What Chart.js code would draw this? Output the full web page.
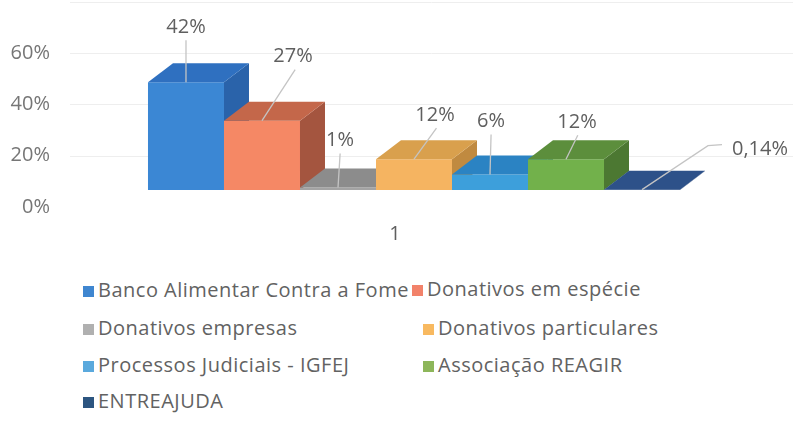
<!DOCTYPE html>
<html>
<head>
<meta charset="utf-8">
<script src="https://cdn.jsdelivr.net/npm/chart.js@4"></script>
<style>
    html, body { margin: 0; padding: 0; background: #ffffff; }
    #wrap { position: relative; width: 793px; height: 429px; overflow: hidden; }
    #chartBox { position: absolute; left: 0; top: 0; width: 793px; height: 250px; }
    .legend-item {
        position: absolute;
        height: 24px;
        line-height: 24px;
        font-family: "Open Sans", sans-serif;
        font-size: 20px;
        letter-spacing: 0.5px;
        color: #626262;
        white-space: nowrap;
    }
    .legend-item span.box {
        display: inline-block;
        width: 11px;
        height: 11px;
        margin-right: 4px;
        vertical-align: 0px;
    }
</style>
</head>
<body>
<div id="wrap">
    <div id="chartBox"><canvas id="fundsChart"></canvas></div>
    <div id="legend"></div>
</div>
<script>
// Chart data
const categories = ['1'];
const seriesNames = [
    'Banco Alimentar Contra a Fome',
    'Donativos em espécie',
    'Donativos empresas',
    'Donativos particulares',
    'Processos Judiciais - IGFEJ',
    'Associação REAGIR',
    'ENTREAJUDA'
];
const seriesValues = [42, 27, 1, 12, 6, 12, 0.14];
const yTicks = [0, 20, 40, 60];

// Colours of each bar: front face, top face, side face
const frontColors = ['#3b87d4', '#f58865', '#a3a3a3', '#f5b461', '#3d9fdb', '#72b14b', '#264478'];
const topColors = ['#2f70c0', '#c4674a', '#8c8c8c', '#d9a04d', '#2b83c3', '#5c8e3c', '#2d5189'];
const sideColors = ['#2a63aa', '#a4553f', '#7a7a7a', '#c08a40', '#2a74ad', '#4c7832', '#1f3a66'];
const legendColors = ['#3f86d0', '#f2826a', '#b0b0b0', '#f8b960', '#5aa9dd', '#8db65a', '#2c5580'];

// Where each value label sits relative to the top-front centre of its bar
const labelOffsets = [[0, -55], [31, -64], [2, -47], [21, -44], [1, -53], [11, -37], [118, -40]];

// Depth of the fake 3D boxes
const DEPTH_X = 25;
const DEPTH_Y = -19;
// Tick labels sit a bit lower than the front face scale
const TICK_SHIFT = 17;

// Format value like "0,14%"
function formatPercent(value) {
    return new Intl.NumberFormat('pt-PT', { maximumFractionDigits: 2 }).format(value) + '%';
}

function fillPoly(ctx, points, color) {
    ctx.beginPath();
    ctx.moveTo(points[0][0], points[0][1]);
    for (let i = 1; i < points.length; i++) {
        ctx.lineTo(points[i][0], points[i][1]);
    }
    ctx.closePath();
    ctx.fillStyle = color;
    ctx.fill();
}

// Draw bars as 3D boxes instead of flat rectangles
const boxBars = {
    id: 'boxBars',
    beforeDatasetsDraw(chart) {
        const ctx = chart.ctx;
        const yScale = chart.scales.y;
        const area = chart.chartArea;

        // faint back-wall grid
        ctx.save();
        ctx.strokeStyle = '#eeeeee';
        ctx.lineWidth = 1;
        yTicks.concat([yTicks[yTicks.length - 1] + 20]).forEach(v => {
            if (v === 0) return;
            const py = Math.round(yScale.getPixelForValue(v) + TICK_SHIFT) + 0.5;
            ctx.beginPath();
            ctx.moveTo(area.left, py);
            ctx.lineTo(chart.width, py);
            ctx.stroke();
        });

        chart.data.datasets.forEach((ds, i) => {
            const bar = chart.getDatasetMeta(i).data[0];
            const p = bar.getProps(['x', 'y', 'base', 'width'], true);
            const l = p.x - p.width / 2;
            const r = p.x + p.width / 2;
            const t = p.y;
            const b = p.base;
            // front
            fillPoly(ctx, [[l, t], [r, t], [r, b], [l, b]], frontColors[i]);
            // side
            fillPoly(ctx, [[r, t], [r + DEPTH_X, t + DEPTH_Y], [r + DEPTH_X, b + DEPTH_Y], [r, b]], sideColors[i]);
            // top
            fillPoly(ctx, [[l, t], [l + DEPTH_X, t + DEPTH_Y], [r + DEPTH_X, t + DEPTH_Y], [r, t]], topColors[i]);
        });
        ctx.restore();
        return false;
    },
    afterDraw(chart) {
        const ctx = chart.ctx;
        ctx.save();
        ctx.font = '20px "Open Sans", sans-serif';
        ctx.textAlign = 'center';
        ctx.textBaseline = 'middle';
        chart.data.datasets.forEach((ds, i) => {
            const bar = chart.getDatasetMeta(i).data[0];
            const p = bar.getProps(['x', 'y'], true);
            const lx = p.x + labelOffsets[i][0];
            const ly = p.y + labelOffsets[i][1];

            // leader line
            ctx.strokeStyle = '#c4c4c4';
            ctx.lineWidth = 1.3;
            ctx.beginPath();
            ctx.moveTo(p.x, p.y);
            if (Math.abs(labelOffsets[i][0]) > 60) {
                ctx.lineTo(lx - 52, ly - 4);
                ctx.lineTo(lx - 38, ly - 5);
            } else {
                ctx.lineTo(lx + labelOffsets[i][0] * 0.07, ly + 13);
            }
            ctx.stroke();

            ctx.fillStyle = '#5f5f5f';
            ctx.fillText(formatPercent(ds.data[0]), lx, ly);
        });
        ctx.restore();
    }
};

const datasets = seriesNames.map((name, i) => ({
    label: name,
    data: [seriesValues[i]],
    backgroundColor: frontColors[i],
    barPercentage: 1,
    categoryPercentage: 0.7733
}));

const fundsChart = new Chart(document.getElementById('fundsChart').getContext('2d'), {
    type: 'bar',
    data: {
        labels: categories,
        datasets: datasets
    },
    options: {
        responsive: true,
        maintainAspectRatio: false,
        animation: false,
        layout: {
            padding: { top: 36, right: 35, bottom: 6, left: 0 }
        },
        plugins: {
            legend: { display: false },
            tooltip: { enabled: false }
        },
        scales: {
            x: {
                grid: { display: false, drawTicks: false },
                border: { display: false },
                ticks: {
                    color: '#5f5f5f',
                    font: { family: 'Open Sans', size: 20 },
                    padding: 32,
                    labelOffset: -19
                },
                afterFit: function(scale) {
                    scale.height = 54;
                }
            },
            y: {
                min: 0,
                max: 60,
                grid: { display: false, drawTicks: false },
                border: { display: false },
                ticks: {
                    stepSize: 20,
                    color: '#767676',
                    font: { family: 'Open Sans', size: 20 },
                    padding: 20,
                    labelOffset: TICK_SHIFT,
                    callback: function(value) {
                        return value + '%';
                    }
                },
                afterFit: function(scale) {
                    scale.width = 70;
                }
            }
        }
    },
    plugins: [boxBars]
});

// Legend in two columns, laid out like the original
const legendSpots = [[83, 290], [412, 289], [83, 328], [423, 328], [83, 365], [423, 365], [83, 401]];
const legendEl = document.getElementById('legend');
seriesNames.forEach((name, i) => {
    const item = document.createElement('div');
    item.className = 'legend-item';
    item.style.left = legendSpots[i][0] + 'px';
    item.style.top = (legendSpots[i][1] - 12) + 'px';
    item.innerHTML = '<span class="box" style="background:' + legendColors[i] + '"></span>' + name;
    legendEl.appendChild(item);
});
</script>
</body>
</html>
